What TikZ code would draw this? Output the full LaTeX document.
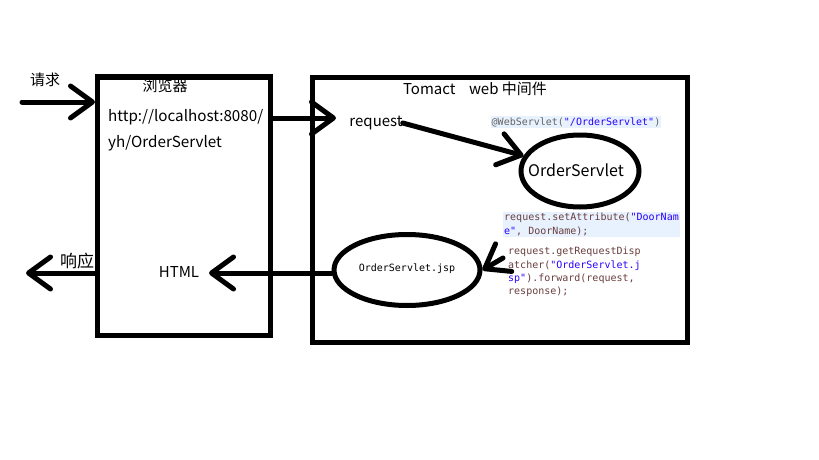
\documentclass[tikz,border=0pt]{standalone}
\usepackage{fontspec}
\setmainfont{Noto Sans CJK SC}
\setmonofont{DejaVu Sans Mono}
\usetikzlibrary{arrows.meta,shapes.geometric}
\definecolor{codevar}{HTML}{6A3E3E}
\definecolor{codestr}{HTML}{2A00FF}
\definecolor{codeann}{HTML}{646464}
\definecolor{codebg}{HTML}{E8F2FE}
\tikzset{
  frame/.style={draw, line width=5pt, inner sep=0pt},
  oval/.style={draw, ellipse, line width=5pt, inner sep=0pt},
  conn/.style={line width=5pt, line cap=round,
    -{Straight Barb[length=22pt,width=32pt,line cap=round,line join=round]}},
  lbl/.style={inner sep=0pt, font=\fontsize{15}{18}\selectfont},
  code/.style={inner sep=1pt, align=left, font=\ttfamily\fontsize{10}{13.3}\selectfont},
}
\begin{document}
\begin{tikzpicture}[x=1pt,y=-1pt]
\useasboundingbox[fill=white] (0,0) rectangle (819,460);
% frames
\node[frame, minimum width=172.5pt, minimum height=258.5pt] (browser) at (183.75,206.25) {};
\node[frame, minimum width=374.5pt, minimum height=264.5pt] (tomcat) at (499.75,209.75) {};
% texts in browser
\node[lbl] (btitle) at (165,86) {浏览器};
\node[lbl, anchor=west, font=\fontsize{15.2}{18}\selectfont] (url1) at (108,117) {http://localhost:8080/};
\node[lbl, anchor=west, font=\fontsize{15.2}{18}\selectfont] (url2) at (108,143) {yh/OrderServlet};
\node[lbl, font=\fontsize{15}{18}\selectfont] (html) at (179,272) {HTML};
% outside labels
\node[lbl] (qiuqiu) at (45,80) {请求};
\node[lbl, font=\fontsize{17}{20}\selectfont] (xiangying) at (77,261) {响应};
% tomcat texts
\node[lbl] (ttitle) at (475,89) {Tomact\hspace{0.9em}web 中间件};
\node[lbl] (req) at (376,123) {request};
\node[code, fill=codebg] (ann) at (576,122) {\textcolor{codeann}{@WebServlet(}\textcolor{codestr}{"/OrderServlet"}\textcolor{codeann}{)}};
\node[oval, minimum width=118pt, minimum height=72pt] (servlet) at (580,171) {};
\node[lbl, font=\fontsize{16}{19}\selectfont] (servlettxt) at (576,170) {OrderServlet};
\node[code, anchor=north west, fill=codebg] (code1) at (503,212) {\textcolor{codevar}{request.setAttribute(}\textcolor{codestr}{"DoorNam}\\\textcolor{codestr}{e"}\textcolor{codevar}{, DoorName);}};
\node[code, anchor=north west] (code2) at (507,246) {\textcolor{codevar}{request.getRequestDisp}\\\textcolor{codevar}{atcher(}\textcolor{codestr}{"OrderServlet.j}\\\textcolor{codestr}{sp"}\textcolor{codevar}{).forward(request,}\\\textcolor{codevar}{response);}};
\node[oval, minimum width=146pt, minimum height=71pt] (jsp) at (407,270) {};
\node[code, font=\ttfamily\fontsize{10}{12}\selectfont] (jsptxt) at (407,269) {OrderServlet.jsp};
% connector end points
\coordinate (reqin) at (22,102);
\coordinate (respout) at (26,273);
\coordinate (reqtip) at (336,118);
\coordinate (htmltip) at (209,273);
\coordinate (codefrom) at (503,258);
% connectors
\draw[conn] (reqin) -- (browser.west |- reqin);
\draw[conn] (browser.east |- reqtip) -- (reqtip);
\draw[conn] (req.east) -- (servlet);
\draw[conn] (codefrom) -- (jsp.east);
\draw[conn] (jsp.west |- htmltip) -- (htmltip);
\draw[conn] (browser.west |- respout) -- (respout);
\end{tikzpicture}
\end{document}
